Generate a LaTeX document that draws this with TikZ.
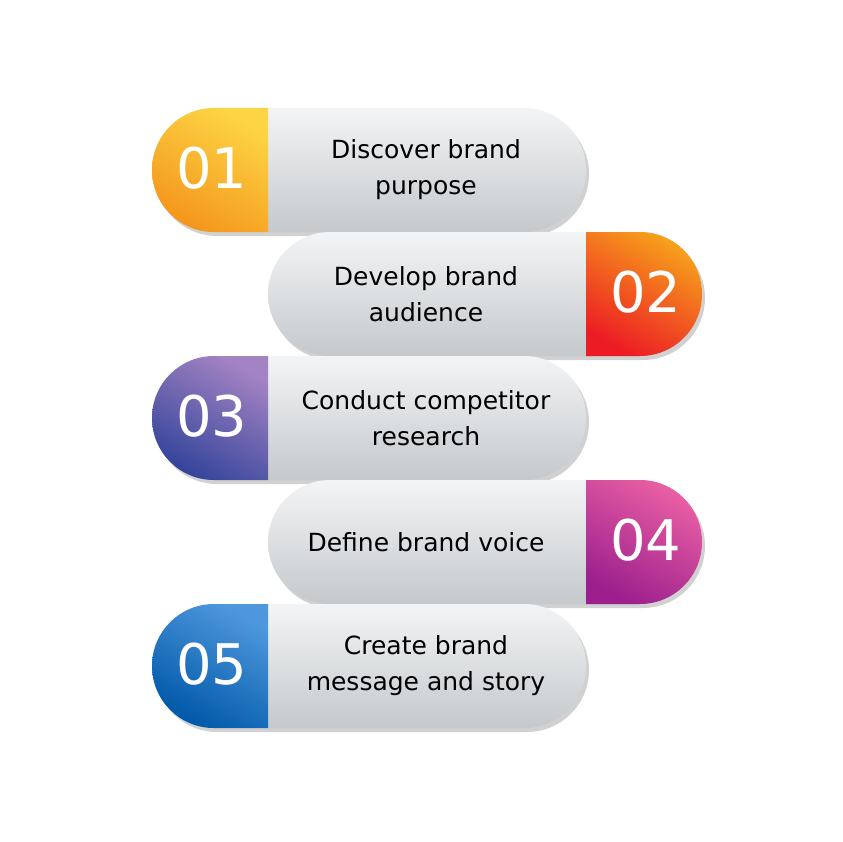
\documentclass[tikz,border=0pt]{standalone}
\usepackage{fontspec}
\setmainfont{DejaVu Sans}
\definecolor{pillhi}{HTML}{F3F4F5}
\definecolor{pilllo}{HTML}{C5C9CC}
\definecolor{yelA}{HTML}{FDD544}
\definecolor{yelB}{HTML}{F4961C}
\definecolor{redA}{HTML}{F7A21B}
\definecolor{redB}{HTML}{EC1C24}
\definecolor{purA}{HTML}{A383C3}
\definecolor{purB}{HTML}{33449A}
\definecolor{pinA}{HTML}{EA60A4}
\definecolor{pinB}{HTML}{9C1F8D}
\definecolor{bluA}{HTML}{4E97DC}
\definecolor{bluB}{HTML}{0058A8}
\tikzset{
  pill/.style={rounded corners=62pt},
  numtext/.style={text=white,font=\fontsize{56}{60}\selectfont},
  steptext/.style={align=center,text=black,font=\fontsize{25}{36}\selectfont}
}
\begin{document}
\begin{tikzpicture}[x=1pt,y=1pt]
\useasboundingbox (0,0) rectangle (842,-842);

\foreach[count=\i] \ca/\cb/\txt in {
  yelA/yelB/{Discover brand\\purpose},
  redA/redB/{Develop brand\\audience},
  purA/purB/{Conduct competitor\\research},
  pinA/pinB/{Define brand voice},
  bluA/bluB/{Create brand\\message and story}}
{
  \pgfmathsetmacro\ytop{-108-124*(\i-1)}
  \pgfmathsetmacro\xl{isodd(\i)?152:268}
  \pgfmathsetmacro\xc{isodd(\i)?152:586}
  % shadow
  \fill[pill,black!18] (\xl+3,\ytop-4) rectangle ++(434,-124);
  \begin{scope}
    \clip[pill] (\xl,\ytop) rectangle ++(434,-124);
    \shade[top color=pillhi,bottom color=pilllo] (\xl,\ytop) rectangle ++(434,-124);
    \shade[shading=axis,top color=\ca,bottom color=\cb,shading angle=-30]
      (\xc,\ytop) rectangle ++(116,-124);
  \end{scope}
  \node[numtext] (num\i) at (\xc+60,\ytop-60) {0\i};
  \node[steptext] (lbl\i) at (426,\ytop-62) {\txt};
}
\end{tikzpicture}
\end{document}
